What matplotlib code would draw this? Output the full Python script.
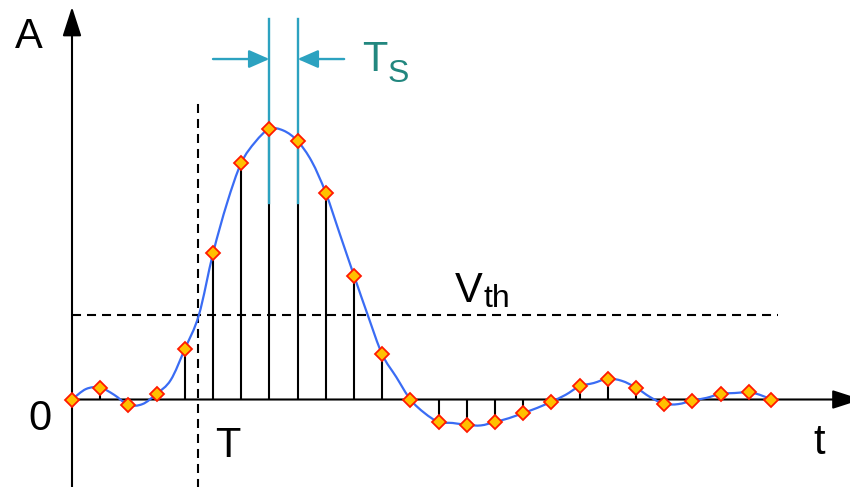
import numpy as np
import matplotlib.pyplot as plt
from matplotlib.path import Path
from matplotlib.patches import PathPatch

plt.rcParams['font.family'] = ['Liberation Sans', 'DejaVu Sans']
plt.rcParams['lines.scale_dashes'] = False

# sampled pulse (time in sample periods, amplitude normalised to peak)
sample_t = [0, 1, 2, 3, 4, 5, 6, 7, 8, 9, 10, 11, 12,
            13, 14, 15, 16, 17, 18, 19, 20, 21, 22, 23, 24, 24.8]
sample_v = [0.0, 0.044, -0.020, 0.021, 0.187, 0.541, 0.876, 1.002, 0.957,
            0.765, 0.459, 0.167, 0.0, -0.083, -0.094, -0.083, -0.050,
            -0.008, 0.049, 0.077, 0.044, -0.016, -0.004, 0.021, 0.027, 0.0]

# continuous signal between the samples
between_t = [0.5, 1.5, 2.5, 3.5, 4.5, 5.5, 6.5, 7.5, 8.5, 9.5, 10.5, 11.5,
             12.5, 13.5, 14.5, 15.5, 16.5, 17.5, 18.5, 19.5, 20.5, 21.5,
             22.5, 23.5, 24.4]
between_v = [0.039, 0.017, -0.017, 0.072, 0.313, 0.728, 0.954, 0.996, 0.882,
             0.612, 0.309, 0.083, -0.050, -0.087, -0.096, -0.069, -0.031,
             0.017, 0.061, 0.069, 0.009, -0.017, 0.006, 0.024, 0.017]

t_cross = 4.47      # T: threshold crossing
v_th = 0.313        # threshold level
ts_pair = [7, 8]    # samples used to mark Ts

teal = '#2ca2c0'
teal_text = '#22877f'
blue = '#3a6cf4'

fig = plt.figure(figsize=(8.5, 4.87), dpi=100)
ax = fig.add_axes([0, 0, 1, 1])
ax.set_xlim(-72 / 28.2, 778 / 28.2)
ax.set_ylim(-87.5 / 270, 399.5 / 270)
ax.axis('off')

# axes with arrow heads
arrow_kw = dict(arrowstyle='-|>,head_length=1.8,head_width=0.58', mutation_scale=10,
                lw=1.5, color='black', shrinkA=0, shrinkB=0)
ax.annotate('', xy=(0, 1.454), xytext=(0, -0.33), arrowprops=arrow_kw,
            annotation_clip=False)
ax.annotate('', xy=(28.0, 0), xytext=(0, 0), arrowprops=arrow_kw,
            annotation_clip=False)

# threshold and crossing time
dash = (0, (6.5, 4.3))
ax.plot([0, 25.04], [v_th, v_th], color='black', lw=1.5, ls=dash, zorder=2)
ax.plot([t_cross, t_cross], [-0.33, 1.117], color='black', lw=1.5, ls=dash, zorder=2)

# stems
ax.vlines(sample_t, 0, sample_v, color='black', lw=1.5, zorder=3)

# Ts markers
for k in ts_pair:
    ax.plot([sample_t[k], sample_t[k]], [0.728, 1.409], color=teal, lw=1.7, zorder=4)
head_kw = dict(arrowstyle='-|>,head_length=1.25,head_width=0.55', mutation_scale=10,
               lw=1.7, color=teal, shrinkA=0, shrinkB=0)
ax.annotate('', xy=(sample_t[ts_pair[0]], 1.261), xytext=(5.0, 1.261), arrowprops=head_kw)
ax.annotate('', xy=(sample_t[ts_pair[1]], 1.261), xytext=(9.65, 1.261), arrowprops=head_kw)

# smooth curve through samples and in-between points (Catmull-Rom as Bezier)
pts = sorted(zip(sample_t + between_t, sample_v + between_v))
P = np.array(pts)
verts = [tuple(P[0])]
codes = [Path.MOVETO]
for i in range(len(P) - 1):
    p0 = P[i - 1] if i > 0 else P[i]
    p1, p2 = P[i], P[i + 1]
    p3 = P[i + 2] if i + 2 < len(P) else P[i + 1]
    c1 = p1 + (p2 - p0) / 6
    c2 = p2 - (p3 - p1) / 6
    verts += [tuple(c1), tuple(c2), tuple(p2)]
    codes += [Path.CURVE4] * 3
ax.add_patch(PathPatch(Path(verts, codes), fill=False, edgecolor=blue, lw=1.6, zorder=5))

ax.plot(sample_t, sample_v, ls='none', marker='D', ms=7.5, mfc='#ffc000', mec='#ff1a00',
        mew=1.3, zorder=6)

# labels
fs = 30
ax.text(-1.543, 1.302, 'A', fontsize=fs, ha='center', va='baseline')
ax.text(-1.152, -0.113, '0', fontsize=fs, ha='center', va='baseline')
ax.text(5.514, -0.213, 'T', fontsize=fs, ha='center', va='baseline')
ax.text(26.5, -0.202, 't', fontsize=fs, ha='center', va='baseline')
ax.text(13.58, 0.361, 'V', fontsize=fs, ha='left', va='baseline')
ax.text(14.6, 0.343, 'th', fontsize=23, ha='left', va='baseline')
ax.text(10.28, 1.217, 'T', fontsize=fs, ha='left', va='baseline', color=teal_text)
ax.text(11.2, 1.176, 'S', fontsize=23, ha='left', va='baseline', color=teal_text)

fig.savefig('out.png', dpi=100)
